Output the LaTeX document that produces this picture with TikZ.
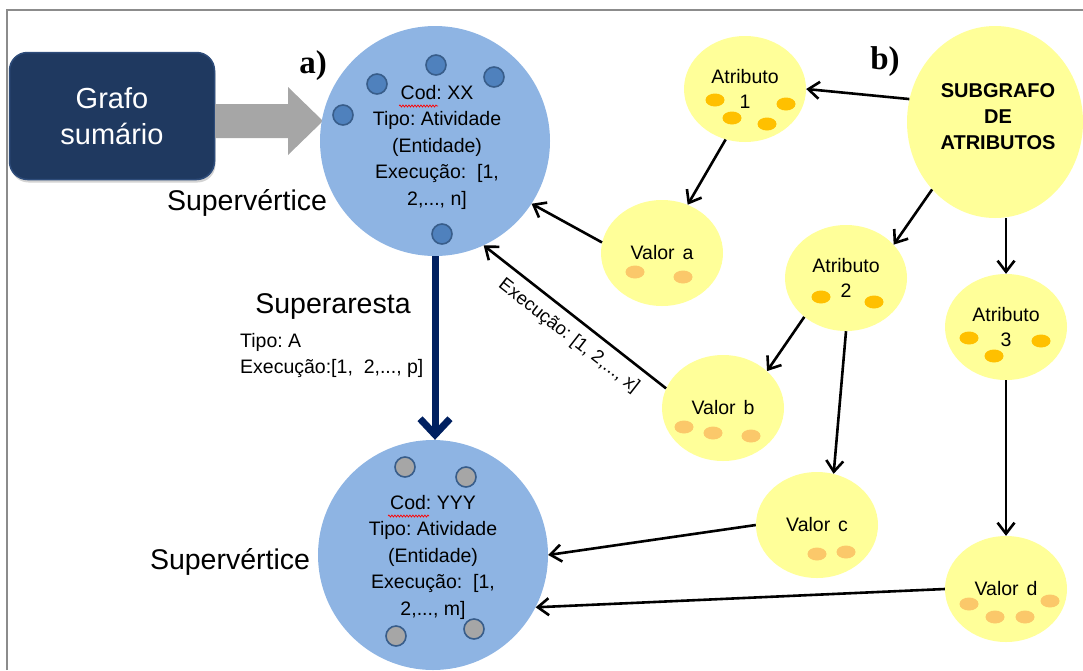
\documentclass[tikz,border=0pt]{standalone}
\usepackage{fontspec}
\setmainfont{Liberation Sans}
\newfontfamily\labelserif{Liberation Serif}
\usetikzlibrary{arrows.meta,shapes.geometric,shadows,decorations.pathmorphing}
\frenchspacing

\definecolor{framegray}{HTML}{8C8C8C}
\definecolor{boxnavy}{HTML}{1F3960}
\definecolor{boxedge}{HTML}{2E4C7A}
\definecolor{blockgray}{HTML}{A6A6A6}
\definecolor{superblue}{HTML}{8EB4E3}
\definecolor{dotblue}{HTML}{4F81BD}
\definecolor{dotedge}{HTML}{385D8A}
\definecolor{dotgray}{HTML}{A6A6A6}
\definecolor{attryellow}{HTML}{FFFF99}
\definecolor{attrdot}{HTML}{FFC000}
\definecolor{valdot}{HTML}{FBC86A}
\definecolor{edgenavy}{HTML}{002060}

\begin{document}
\begin{tikzpicture}[x=1pt,y=-1pt,
  grafobox/.style={rectangle, rounded corners=18pt, fill=boxnavy, draw=boxedge,
    line width=1.5pt, text=white,
    minimum width=205pt, minimum height=127pt, align=center,
    font=\fontsize{29}{36}\selectfont,
    drop shadow={shadow xshift=1pt, shadow yshift=-3pt, opacity=0.35}},
  supervertex/.style={circle, fill=superblue, minimum size=230pt, inner sep=0pt},
  vertextext/.style={align=center, inner sep=0pt, font=\fontsize{19.5}{26.5}\selectfont},
  bluedot/.style={fill=dotblue, draw=dotedge, line width=1.6pt},
  graydot/.style={fill=dotgray, draw=dotedge, line width=1.6pt},
  attrnode/.style={ellipse, fill=attryellow, minimum width=122pt, minimum height=106pt,
    inner sep=0pt, align=center, font=\fontsize{19.5}{25}\selectfont},
  subgnode/.style={ellipse, fill=attryellow, minimum width=176pt, minimum height=192pt,
    inner sep=0pt},
  subgtext/.style={align=center, inner sep=0pt, font=\fontsize{20}{26}\selectfont\bfseries},
  bigtext/.style={font=\fontsize{28.5}{34}\selectfont, inner sep=0pt},
  smalltext/.style={font=\fontsize{19.5}{26}\selectfont, inner sep=0pt},
  partlabel/.style={font=\labelserif\bfseries\fontsize{33}{33}\selectfont, inner sep=0pt},
  arr/.style={draw=black, line width=2.6pt, -{Straight Barb[length=11pt,width=17pt]}},
  superedge/.style={draw=edgenavy, line width=7pt, -{Straight Barb[length=16pt,width=30pt]}},
  squiggle/.style={draw=red, line width=0.7pt, decorate,
    decoration={snake, amplitude=1pt, segment length=3pt}}
]
\useasboundingbox (0,0) rectangle (1083,670);

% page frame (left and top edges only)
\draw[framegray, line width=1.6pt] (7,670) -- (7,10) -- (1083,10);

% summary graph box and the block arrow leaving it
\node[grafobox] (grafo) at (112,116) {Grafo\\sumário};
\fill[blockgray] (215,104) -- (288,104) -- (288,87) -- (323,121)
  -- (288,155) -- (288,138) -- (215,138) -- cycle;

% part labels
\node[partlabel] (parta) at (313,66) {a)};
\node[partlabel] (partb) at (885,62) {b)};

% upper supervertex
\node[supervertex] (topc) at (435,141) {};
\foreach \p in {(377,84),(436,65),(494,77),(343,115),(442,234)}
  \draw[bluedot] \p circle[radius=10];
\node[vertextext] (toptext) at (437,147)
  {Cod: XX\\Tipo: Atividade\\(Entidade)\\Execução:\ \ [1,\\2,..., n]};
\draw[squiggle] (399,106) -- (438,106);
\node[bigtext, anchor=base] (toplabel) at (247,210) {Supervértice};

% lower supervertex
\node[supervertex] (botc) at (433,555) {};
\foreach \p in {(405,467),(466,477),(396,636),(474,629)}
  \draw[graydot] \p circle[radius=10];
\node[vertextext] (bottext) at (433,557)
  {Cod: YYY\\Tipo: Atividade\\(Entidade)\\Execução:\ \ [1,\\2,..., m]};
\draw[squiggle] (388,516) -- (429,516);
\node[bigtext, anchor=base] (botlabel) at (230,569) {Supervértice};

% superedge between the supervertices
\draw[superedge] (topc.south) -- (topc.south |- botc.north);
\node[bigtext, anchor=base] (edgelabel) at (333,313) {Superaresta};
\node[smalltext, anchor=base west] (edgetipo) at (240,347) {Tipo: A};
\node[smalltext, anchor=base west] (edgeexec) at (240,373) {Execução:[1,\ \ 2,..., p]};

% attribute subgraph
\node[subgnode] (subg) at (995,122) {};
\node[subgtext] (subglabel) at (998,117) {SUBGRAFO\\DE\\ATRIBUTOS};
\node[attrnode] (atr1) at (745,89) {Atributo\\1};
\node[attrnode] (atr2) at (846,278) {Atributo\\2};
\node[attrnode] (atr3) at (1006,327) {Atributo\\3};
\node[attrnode] (vala) at (662,253) {Valor\hspace{0.4em}a};
\node[attrnode] (valb) at (723,408) {Valor\hspace{0.4em}b};
\node[attrnode] (valc) at (817,525) {Valor\hspace{0.4em}c};
\node[attrnode] (vald) at (1006,589) {Valor\hspace{0.4em}d};

% attribute dots
\foreach \p in {(715,100),(732,118),(786,104),(767,124),
                (821,297),(874,302),
                (969,338),(1041,341),(994,356)}
  \fill[attrdot] \p ellipse[x radius=9.5, y radius=6.5];
% value dots
\foreach \p in {(635,272),(683,277),
                (684,427),(713,433),(751,436),
                (817,554),(846,552),
                (969,604),(1050,601),(995,617),(1025,617)}
  \fill[valdot] \p ellipse[x radius=9.5, y radius=6.5];

% connectors
\draw[arr] (subg.165) -- (atr1.east);
\draw[arr] (atr1.-111) -- (vala.62);
\draw[arr] (vala.170) -- (topc.-33);
\draw[arr] (subg.-133) -- (atr2.35);
\draw[arr] (atr3.north |- subg.south) -- (atr3.north);
\draw[arr] (atr2.-137) -- (valb.40);
\draw[arr] (atr2.south) -- (valc.72);
\draw[arr] (atr3.south) -- (vald.north);
\draw[arr] (valb.161) -- (topc.-65)
  node[pos=0.47, rotate=-38, yshift=-19pt, inner sep=0pt,
       font=\fontsize{18.5}{20}\selectfont] (execlabel) {Execução: [1, 2,..., x]};
\draw[arr] (valc.west) -- (botc.0);
\draw[arr] (vald.west) -- (botc.-27);
\end{tikzpicture}
\end{document}
